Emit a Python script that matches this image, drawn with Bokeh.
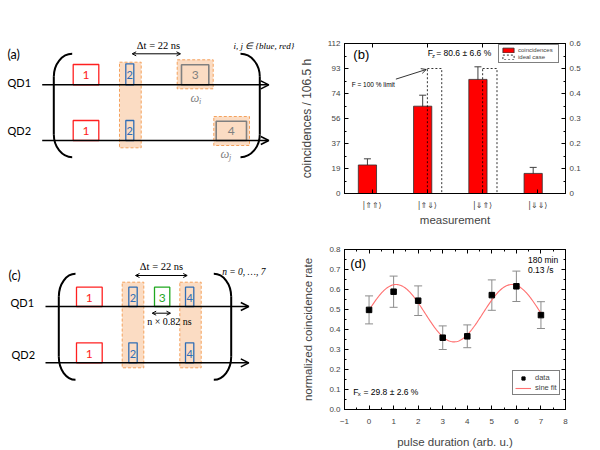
import numpy as np
from bokeh.plotting import figure
from bokeh.layouts import row, column
from bokeh.models import (Range1d, LinearAxis, FixedTicker, Arrow, OpenHead, Whisker, TeeHead,
                          ColumnDataSource, Legend, LegendItem)
from bokeh.core.properties import value
from bokeh.embed import file_html
from bokeh.resources import INLINE

# ---------------- data ----------------
b_states = ["|⇑⇑⟩", "|⇑⇓⟩", "|⇓⇑⟩", "|⇓⇓⟩"]
b_pos = [1, 2, 3, 4]
b_counts = [21.3, 65.2, 85.2, 15.0]
b_count_err = [4.6, 8.2, 9.4, 4.5]
b_ideal_pos = [2, 3]
b_ideal_prob = [0.5, 0.5]
b_left_max = 112
b_right_max = 0.6
b_left_labels = ["0", "19", "37", "56", "74", "93", "112"]
b_right_ticks = [0.0, 0.1, 0.2, 0.3, 0.4, 0.5, 0.6]

d_pulse = [0, 1, 2, 3, 4, 5, 6, 7]
d_rate = [0.498, 0.589, 0.544, 0.359, 0.366, 0.572, 0.616, 0.472]
d_rate_err = [0.070, 0.078, 0.074, 0.059, 0.057, 0.076, 0.076, 0.067]
d_x_ticks = [-1, 0, 1, 2, 3, 4, 5, 6, 7, 8]
d_y_ticks = [0.0, 0.1, 0.2, 0.3, 0.4, 0.5, 0.6, 0.7, 0.8]
d_y_labels = ["0.0", "0.1", "0.2", "0.3", "0.4", "0.5", "0.6", "0.7", "0.8"]
fit_offset = 0.4815
fit_amp = 0.1435
fit_period = 4.72
fit_peak = 1.10

FONT = "Liberation Sans"
SCH = "Lato"
SERIF = "Liberation Serif"
RED = "#ff2020"
BLUE = "#2f6db5"
GREEN = "#1fa81f"
GRAY = "#808080"
ORANGE_FILL = "#fbdcc3"
ORANGE_LINE = "#f4a15c"


def txt(fig, x, y, t, size, color="black", font=FONT, align="left", style="normal",
        baseline="middle", **kw):
    fig.text(x=[x], y=[y], text=[t], text_font=value(font), text_font_size=value(f"{size}px"),
             text_color=color, text_align=align, text_baseline=baseline,
             text_font_style=style, **kw)


def style_axis(ax, labels=True, ticks=None):
    ax.axis_line_color = "black"
    ax.axis_line_width = 1
    ax.major_tick_in = 4
    ax.major_tick_out = 0
    ax.minor_tick_in = 2
    ax.minor_tick_out = 0
    ax.major_tick_line_color = "black"
    ax.minor_tick_line_color = "black"
    ax.major_label_text_font = FONT
    ax.major_label_text_font_size = "8px"
    ax.major_label_standoff = 4
    ax.axis_label_text_font = FONT
    ax.axis_label_text_font_style = "normal"
    ax.axis_label_text_font_size = "11.5px"
    if not labels:
        ax.major_label_overrides = {t: "" for t in ticks}
        ax.major_label_standoff = 0


# ---------------- schematic (a) and (c) ----------------
S_W, S_H = 295, 450
R_W = 600 - S_W
s = figure(width=S_W, height=S_H, x_range=Range1d(0, S_W), y_range=Range1d(S_H, 0),
           output_backend="svg", toolbar_location=None, min_border=0,
           x_axis_location=None, y_axis_location=None)
s.grid.visible = False
s.outline_line_color = None


def bracket(fig, x_end, x_vert, y_top, y_bot, ry=23):
    k = 0.552
    cx = x_end + (x_vert - x_end) * k
    fig.bezier(x0=[x_end], y0=[y_top], x1=[x_vert], y1=[y_top + ry],
               cx0=[cx], cy0=[y_top], cx1=[x_vert], cy1=[y_top + ry * (1 - k)],
               line_width=2, line_color="black")
    fig.segment(x0=[x_vert], y0=[y_top + ry], x1=[x_vert], y1=[y_bot - ry],
                line_width=2, line_color="black")
    fig.bezier(x0=[x_vert], y0=[y_bot - ry], x1=[x_end], y1=[y_bot],
               cx0=[x_vert], cy0=[y_bot - ry * (1 - k)], cx1=[cx], cy1=[y_bot],
               line_width=2, line_color="black")


def box(fig, l, r, t, b, color, width=1.3, dash="solid", fill=None):
    fig.quad(left=[l], right=[r], top=[t], bottom=[b], fill_color=fill,
             line_color=color, line_width=width, line_dash=dash)


def harrow(fig, x0, x1, y, both=False, size=8, lw=1.5):
    fig.add_layout(Arrow(end=OpenHead(size=size, line_width=lw, line_color="black"),
                         start=OpenHead(size=size, line_width=lw, line_color="black") if both else None,
                         x_start=x0, y_start=y, x_end=x1, y_end=y,
                         line_width=lw, line_color="black"))


# ---- (a)
box(s, 119, 140.7, 61.7, 147.3, ORANGE_LINE, 1, "3 2", ORANGE_FILL)
box(s, 176.7, 212.7, 59.3, 88.3, ORANGE_LINE, 1, "3 2", ORANGE_FILL)
box(s, 213.3, 249, 116, 145, ORANGE_LINE, 1, "3 2", ORANGE_FILL)
box(s, 72.7, 98.3, 64, 84.3, RED)
box(s, 72.7, 98.3, 120, 140, RED)
box(s, 125.3, 133.3, 63.3, 84.3, BLUE)
box(s, 125.3, 133.3, 120, 140, BLUE)
box(s, 181, 208.3, 64.3, 84.3, GRAY, 1.6)
box(s, 215.7, 246, 120.7, 140, GRAY, 1.6)
txt(s, 85.5, 74.5, "1", 12, RED, SCH, "center")
txt(s, 85.5, 130.5, "1", 12, RED, SCH, "center")
txt(s, 129.3, 74.5, "2", 11, BLUE, SCH, "center")
txt(s, 129.3, 130.5, "2", 11, BLUE, SCH, "center")
txt(s, 194.7, 74.5, "3", 12, GRAY, SCH, "center")
txt(s, 230.8, 130.5, "4", 12, GRAY, SCH, "center")
harrow(s, 41.7, 268.3, 84.3)
harrow(s, 41.7, 268.3, 140)
bracket(s, 71.7, 53.3, 53.3, 156.7)
bracket(s, 240, 259.3, 53.3, 156.7)
txt(s, 7, 53.5, "(a)", 12.5, "black", SCH)
txt(s, 7, 82, "QD1", 11, "black", SCH)
txt(s, 7, 130, "QD2", 11, "black", SCH)
txt(s, 158, 45, "Δt = 22 ns", 10.5, "black", SERIF, "center")
harrow(s, 131.7, 180, 53.3, both=True, size=4, lw=1)
txt(s, 233, 45, "i, j ∈ {blue, red}", 9, "black", SERIF, style="italic")
txt(s, 190, 97, "ω", 12.5, GRAY, SERIF, style="italic")
txt(s, 198.5, 100.5, "i", 8, GRAY, SERIF, style="italic")
txt(s, 220, 153, "ω", 12.5, GRAY, SERIF, style="italic")
txt(s, 228.5, 156.5, "j", 8, GRAY, SERIF, style="italic")

# ---- (c)
box(s, 121.7, 143.3, 281.7, 367.3, ORANGE_LINE, 1, "3 2", ORANGE_FILL)
box(s, 179.3, 200.7, 281.7, 367.3, ORANGE_LINE, 1, "3 2", ORANGE_FILL)
box(s, 76, 101.7, 286.7, 306, RED)
box(s, 76, 101.7, 342.3, 362.3, RED)
box(s, 128.3, 136.7, 286.7, 306, BLUE)
box(s, 128.3, 136.7, 342.3, 362.3, BLUE)
box(s, 185, 193.3, 286.7, 306, BLUE)
box(s, 185, 193.3, 342.3, 362.3, BLUE)
box(s, 154, 169.3, 286.7, 306, GREEN)
txt(s, 88.8, 297, "1", 12, RED, SCH, "center")
txt(s, 88.8, 353, "1", 12, RED, SCH, "center")
txt(s, 132.5, 297, "2", 11, BLUE, SCH, "center")
txt(s, 132.5, 353, "2", 11, BLUE, SCH, "center")
txt(s, 161.7, 297, "3", 12, GREEN, SCH, "center")
txt(s, 189.2, 297, "4", 11, BLUE, SCH, "center")
txt(s, 189.2, 353, "4", 11, BLUE, SCH, "center")
harrow(s, 45, 248.3, 306)
harrow(s, 45, 248.3, 362.3)
bracket(s, 75, 58.3, 273.3, 379.3)
bracket(s, 213.3, 230.7, 273.3, 379.3)
txt(s, 8, 275, "(c)", 12.5, "black", SCH)
txt(s, 10, 302, "QD1", 11, "black", SCH)
txt(s, 11, 353.5, "QD2", 11, "black", SCH)
txt(s, 161, 266, "Δt = 22 ns", 10.5, "black", SERIF, "center")
harrow(s, 135, 186.7, 275, both=True, size=4, lw=1)
txt(s, 221.7, 271.7, "n = 0, …, 7", 9.5, "black", SERIF, style="italic")
harrow(s, 151.7, 170, 312.7, both=True, size=4, lw=1)
txt(s, 169, 321, "n × 0.82 ns", 10, "black", SERIF, "center")

# ---------------- (b) ----------------
BAR_SHIFT = -0.085
BAR_W = 0.33
IDEAL_W = 0.26

fb = figure(width=R_W, height=228, x_range=Range1d(0.5, 4.5),
            y_range=Range1d(0, b_left_max),
            output_backend="svg", toolbar_location=None,
            min_border_left=48, min_border_right=35, min_border_top=43, min_border_bottom=35)
fb.extra_y_ranges = {"prob": Range1d(0, b_right_max)}
fb.grid.visible = False
fb.outline_line_color = "black"

left_ticks = [b_left_max * k / 6 for k in range(7)]
left_minor = [b_left_max * k / 12 for k in range(13)]
fb.yaxis[0].ticker = FixedTicker(ticks=left_ticks, minor_ticks=left_minor)
fb.yaxis[0].major_label_overrides = {t: lab for t, lab in zip(left_ticks, b_left_labels)}
fb.yaxis[0].axis_label = "coincidences / 106.5 h"
style_axis(fb.yaxis[0])
fb.yaxis[0].axis_label_text_font_size = "12px"
fb.yaxis[0].axis_label_standoff = 11

fb.xaxis[0].ticker = FixedTicker(ticks=b_pos, minor_ticks=[])
fb.xaxis[0].major_label_overrides = {p: st for p, st in zip(b_pos, b_states)}
fb.xaxis[0].axis_label = "measurement"
style_axis(fb.xaxis[0])
fb.xaxis[0].major_label_text_font = "DejaVu Sans"
fb.xaxis[0].major_label_standoff = 7
fb.xaxis[0].axis_label_standoff = 1

right_minor = [b_right_max * k / 12 for k in range(13)]
ax_r = LinearAxis(y_range_name="prob", ticker=FixedTicker(ticks=b_right_ticks, minor_ticks=right_minor))
style_axis(ax_r)
ax_r.formatter.use_scientific = False
fb.add_layout(ax_r, "right")
ax_t = LinearAxis(ticker=FixedTicker(ticks=b_pos, minor_ticks=[]))
style_axis(ax_t, labels=False, ticks=b_pos)
fb.add_layout(ax_t, "above")

bars = fb.vbar(x=[p + BAR_SHIFT for p in b_pos], width=BAR_W, top=b_counts, bottom=0,
               fill_color="#ff0000", line_color="#303030", line_width=0.8)
ideal = fb.quad(left=b_ideal_pos, right=[p + IDEAL_W for p in b_ideal_pos], bottom=0,
                top=b_ideal_prob, y_range_name="prob", fill_color=None, line_color="black",
                line_dash="2 2", line_width=0.8)
src_b = ColumnDataSource(dict(x=[p + BAR_SHIFT for p in b_pos],
                              lo=[c - e for c, e in zip(b_counts, b_count_err)],
                              hi=[c + e for c, e in zip(b_counts, b_count_err)]))
fb.add_layout(Whisker(source=src_b, base="x", lower="lo", upper="hi", dimension="height",
                      line_color="#404040", line_width=1,
                      upper_head=TeeHead(size=7, line_color="#404040", line_width=1),
                      lower_head=TeeHead(size=7, line_color="#404040", line_width=1)))

leg_b = Legend(items=[LegendItem(label="coincidences", renderers=[bars]),
                      LegendItem(label="ideal case", renderers=[ideal])],
               location=(154, 130), orientation="vertical",
               label_text_font=FONT, label_text_font_size="6px",
               glyph_width=14, glyph_height=6, label_height=6, label_width=38, label_standoff=3,
               padding=2, spacing=1, margin=0,
               border_line_color="black", border_line_width=0.8, background_fill_alpha=1)
fb.add_layout(leg_b)

txt(fb, 0.66, 103.5, "(b)", 13)
txt(fb, 2.005, 104.6, "F", 8.5)
txt(fb, 2.085, 102.6, "z", 6)
txt(fb, 2.16, 104.6, "= 80.6 ± 6.6 %", 8.5)
txt(fb, 0.63, 81.5, "F = 100 % limit", 6.5)
fb.add_layout(Arrow(end=OpenHead(size=5, line_width=0.8), x_start=1.43, y_start=85.4,
                    x_end=1.98, y_end=92.6, line_width=0.8, line_color="black"))

# ---------------- (d) ----------------
fd = figure(width=R_W, height=222, x_range=Range1d(-1, 8), y_range=Range1d(0, 0.8),
            output_backend="svg", toolbar_location=None,
            min_border_left=49, min_border_right=35, min_border_top=21, min_border_bottom=38)
fd.grid.visible = False
fd.outline_line_color = "black"
d_x_minor = [t + 0.5 for t in d_x_ticks[:-1]]
d_y_minor = [t + 0.05 for t in d_y_ticks[:-1]]
fd.xaxis[0].ticker = FixedTicker(ticks=d_x_ticks, minor_ticks=d_x_minor)
fd.xaxis[0].axis_label = "pulse duration (arb. u.)"
style_axis(fd.xaxis[0])
fd.xaxis[0].major_label_standoff = 9
fd.xaxis[0].axis_label_standoff = 9
fd.yaxis[0].ticker = FixedTicker(ticks=d_y_ticks, minor_ticks=d_y_minor)
fd.yaxis[0].major_label_overrides = {t: lab for t, lab in zip(d_y_ticks, d_y_labels)}
fd.yaxis[0].axis_label = "normalized coincidence rate"
style_axis(fd.yaxis[0])
fd.yaxis[0].axis_label_standoff = 12
ax_rd = LinearAxis(ticker=FixedTicker(ticks=d_y_ticks, minor_ticks=d_y_minor))
style_axis(ax_rd, labels=False, ticks=d_y_ticks)
fd.add_layout(ax_rd, "right")
ax_td = LinearAxis(ticker=FixedTicker(ticks=d_x_ticks, minor_ticks=d_x_minor))
style_axis(ax_td, labels=False, ticks=d_x_ticks)
fd.add_layout(ax_td, "above")

src_d = ColumnDataSource(dict(x=d_pulse,
                              lo=[v - e for v, e in zip(d_rate, d_rate_err)],
                              hi=[v + e for v, e in zip(d_rate, d_rate_err)]))
fd.add_layout(Whisker(source=src_d, base="x", lower="lo", upper="hi", dimension="height",
                      line_color="#8c8c8c", line_width=1,
                      upper_head=TeeHead(size=8, line_color="#8c8c8c", line_width=1),
                      lower_head=TeeHead(size=8, line_color="#8c8c8c", line_width=1)))
fit_x = np.linspace(d_pulse[0], d_pulse[-1], 200)
fit_y = fit_offset + fit_amp * np.cos(2 * np.pi * (fit_x - fit_peak) / fit_period)
fit_line = fd.line(fit_x, fit_y, line_color="#ff7070", line_width=1.1)
pts = fd.scatter(d_pulse, d_rate, marker="square", size=5.5, color="black")

leg_d = Legend(items=[LegendItem(label="data", renderers=[pts]),
                      LegendItem(label="sine fit", renderers=[fit_line])],
               location=(168, 14), orientation="vertical",
               label_text_font=FONT, label_text_font_size="7.5px",
               glyph_width=16, glyph_height=8, label_height=8, label_standoff=4,
               padding=2, spacing=1, margin=0,
               border_line_color="black", border_line_width=0.8)
fd.add_layout(leg_d)

txt(fd, -0.77, 0.731, "(d)", 13)
txt(fd, 6.47, 0.747, "180 min", 8.5)
txt(fd, 6.47, 0.698, "0.13 /s", 8.5)
txt(fd, -0.64, 0.088, "F", 8.5)
txt(fd, -0.46, 0.080, "x", 6)
txt(fd, -0.23, 0.088, "= 29.8 ± 2.6 %", 8.5)

layout = row(s, column(fb, fd))
open("out.html", "w").write(file_html(layout, INLINE))
